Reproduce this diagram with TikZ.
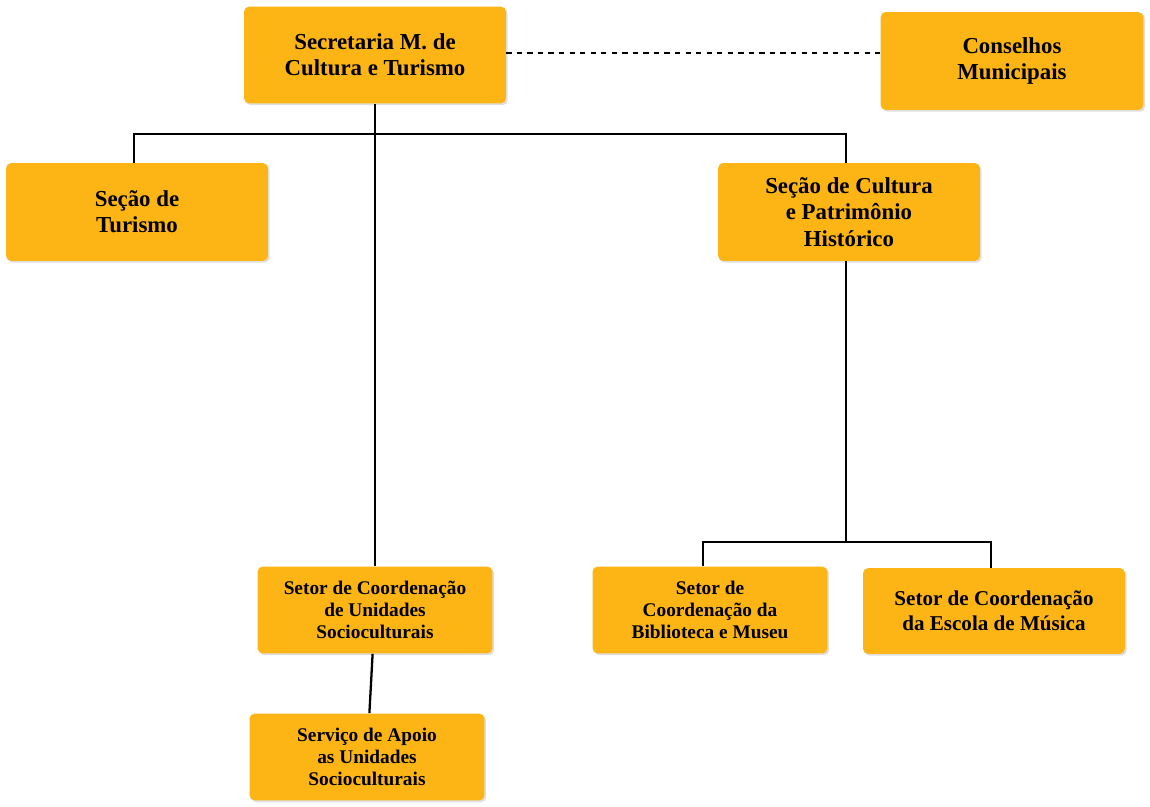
\documentclass[tikz,border=0pt]{standalone}
\usepackage{fontspec}
\setmainfont{Liberation Serif}
\usetikzlibrary{calc,shadows}
\definecolor{caixa}{HTML}{FDB515}
\tikzset{
  unidade/.style={fill=caixa,rounded corners=3pt,align=center,font=\bfseries\fontsize{13}{15}\selectfont,
    inner sep=2pt,drop shadow={opacity=0.25,shadow xshift=1pt,shadow yshift=-1pt}},
  setor/.style={unidade,font=\bfseries\fontsize{11}{12.5}\selectfont},
  liga/.style={line width=1.3pt,black}
}
\begin{document}
\begin{tikzpicture}[x=0.02cm,y=-0.02cm]
  \useasboundingbox (0,0) rectangle (1150,807);
  % caixas
  \node[unidade,minimum width=5.24cm,minimum height=1.94cm] (sec) at (375,55) {Secretaria M. de\\Cultura e Turismo};
  \node[unidade,minimum width=5.26cm,minimum height=1.96cm] (cons) at (1012,61) {Conselhos\\Municipais};
  \node[unidade,minimum width=5.24cm,minimum height=1.96cm] (tur) at (137,212) {Seção de\\Turismo};
  \node[unidade,minimum width=5.24cm,minimum height=1.96cm] (cult) at (849,212) {Seção de Cultura\\e Patrimônio\\Histórico};
  \node[setor,minimum width=4.7cm,minimum height=1.74cm] (socio) at (375,610) {Setor de Coordenação\\de Unidades\\Socioculturais};
  \node[setor,minimum width=4.7cm,minimum height=1.74cm] (apoio) at (367,757) {Serviço de Apoio\\as Unidades\\Socioculturais};
  \node[setor,minimum width=4.7cm,minimum height=1.74cm] (bib) at (710,610) {Setor de\\Coordenação da\\Biblioteca e Museu};
  \node[unidade,minimum width=5.24cm,minimum height=1.72cm,font=\bfseries\fontsize{12}{14}\selectfont] (mus) at (994,611) {Setor de Coordenação\\da Escola de Música};
  % ligações
  \draw[liga,dashed] (sec.east |- 0,53) -- (cons.west |- 0,53);
  \draw[liga] (sec.south) -- (socio.north);
  \draw[liga] (tur.north -| 134,0) |- (846,134) coordinate (c1) -- (cult.north -| c1);
  \draw[liga] (socio) -- (apoio);
  \draw[liga] (cult.south -| c1) -- (846,542) coordinate (c2);
  \draw[liga] (bib.north -| 703,0) |- (c2) -| (mus.north -| 991,0);
\end{tikzpicture}
\end{document}
